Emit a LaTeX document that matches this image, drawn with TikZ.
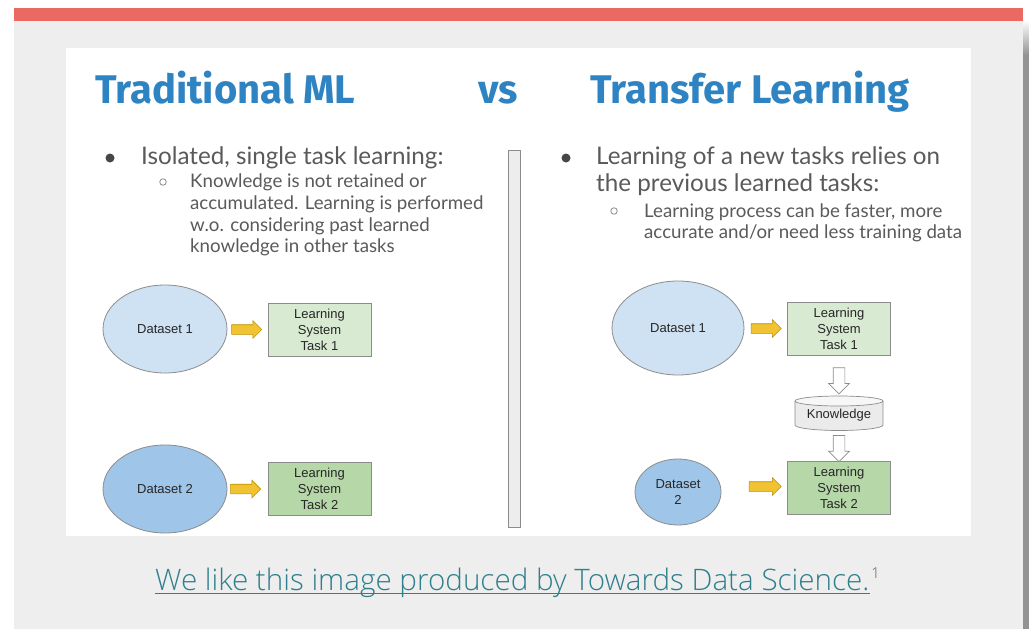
\documentclass[tikz,border=0pt]{standalone}
\usepackage{fontspec}
\setmainfont{Liberation Sans}
\newfontfamily\titlefont{Fira Sans}
\newfontfamily\bodyfont{Lato}
\newfontfamily\capfont{Open Sans Light}
\usetikzlibrary{shapes.geometric,shapes.arrows,calc}

\definecolor{redbar}{HTML}{EA6A62}
\definecolor{panel}{HTML}{EEEEEE}
\definecolor{shadowgray}{HTML}{939393}
\definecolor{titleblue}{HTML}{2E84C2}
\definecolor{bodygray}{HTML}{5A5A5A}
\definecolor{dsA}{HTML}{CFE2F3}
\definecolor{dsB}{HTML}{9FC5E8}
\definecolor{lsA}{HTML}{D9EAD3}
\definecolor{lsB}{HTML}{B6D7A8}
\definecolor{yel}{HTML}{F1C232}
\definecolor{yeledge}{HTML}{BF9000}
\definecolor{edge}{HTML}{8C8C8C}
\definecolor{kngray}{HTML}{EBEBEB}
\definecolor{capteal}{HTML}{2F7F8C}

\tikzset{
  title/.style={anchor=base west, inner sep=0pt, text=titleblue, font=\titlefont\bfseries\fontsize{40}{40}\selectfont},
  lead/.style={anchor=base west, inner sep=0pt, text=bodygray, font=\bodyfont\fontsize{24.2}{24.2}\selectfont},
  sub/.style={anchor=base west, inner sep=0pt, text=bodygray, font=\bodyfont\fontsize{18.7}{18.7}\selectfont},
  dot/.style={circle, fill=black!72, inner sep=0pt, minimum size=9pt},
  ring/.style={circle, draw=black!45, line width=0.8pt, inner sep=0pt, minimum size=6.5pt},
  dataset/.style={ellipse, draw=edge, line width=0.8pt, inner sep=0pt, align=center,
    font=\fontsize{13}{16}\selectfont, text=black!85},
  lsys/.style={rectangle, draw=edge, line width=0.8pt, inner sep=0pt, align=center,
    minimum width=103pt, minimum height=53pt, font=\fontsize{13}{16}\selectfont, text=black!85},
  yarrow/.style={single arrow, fill=yel, draw=yeledge, line width=0.6pt, inner sep=0pt,
    minimum height=30pt, single arrow head extend=4pt, anchor=tip},
  warrow/.style={single arrow, fill=white, draw=edge, line width=0.7pt, inner sep=0pt,
    shape border rotate=270, minimum height=26pt, single arrow head extend=4.5pt},
}
% invisible boxes that set the shaft thickness of the block arrows
\newcommand{\yshaft}{\rule{0pt}{9pt}}
\newcommand{\wshaft}{\rule{11pt}{0pt}\rule{0pt}{11pt}}

\begin{document}
\begin{tikzpicture}[x=1pt, y=-1pt]
\useasboundingbox (0,0) rectangle (1029,629);
\fill[white] (0,0) rectangle (1029,629);

% slide frame: panel, red top bar and the shadow on the right edge
\fill[panel] (14,21) rectangle (1022.5,629);
\fill[redbar] (14,8) rectangle (1022.5,21);
\shade[top color=white, bottom color=shadowgray] (1023,20) rectangle (1029,55);
\fill[shadowgray] (1023,55) rectangle (1029,629);

% white picture area
\fill[white] (66,48) rectangle (971,536);

% headings
\node[title] (tml) at (95,103) {Traditional ML};
\node[title] (vs) at (478,103) {vs};
\node[title] (tl) at (590,103) {Transfer Learning};

% left bullet list
\node[dot] (bl) at (110,158) {};
\node[lead] (l1) at (141,164.5) {Isolated, single task learning:};
\node[ring] (sl) at (163,182) {};
\node[sub] (l2) at (190,187.5) {Knowledge is not retained or};
\node[sub] (l3) at (190,209) {accumulated. Learning is performed};
\node[sub] (l4) at (190,231) {w.o. considering past learned};
\node[sub] (l5) at (190,252.5) {knowledge in other tasks};

% right bullet list
\node[dot] (br) at (566,158) {};
\node[lead] (r1) at (596,164) {Learning of a new tasks relies on};
\node[lead] (r2) at (596,191.5) {the previous learned tasks:};
\node[ring] (sr) at (614,211) {};
\node[sub] (r3) at (644,217) {Learning process can be faster, more};
\node[sub] (r4) at (644,238) {accurate and/or need less training data};

% divider bar
\node[rectangle, draw=black!45, fill=black!7, line width=0.8pt, inner sep=0pt,
  minimum width=12pt, minimum height=377pt] (div) at (514,338.5) {};

% traditional ML: two independent tasks
\node[dataset, fill=dsA, minimum width=124pt, minimum height=88pt] (ld1) at (165,329) {Dataset 1};
\node[lsys, fill=lsA] (lt1) at (319.5,329.5) {Learning\\System\\Task 1};
\node[yarrow] (la1) at ($(lt1.west)+(-5.5,0)$) {\yshaft};

\node[dataset, fill=dsB, minimum width=124pt, minimum height=88pt] (ld2) at (165,489) {Dataset 2};
\node[lsys, fill=lsB] (lt2) at (319.5,489) {Learning\\System\\Task 2};
\node[yarrow] (la2) at ($(lt2.west)+(-6.5,0)$) {\yshaft};

% transfer learning: knowledge passed from task 1 to task 2
\node[dataset, fill=dsA, minimum width=132pt, minimum height=94pt] (rd1) at (678,328) {Dataset 1};
\node[lsys, fill=lsA] (rt1) at (839,328.5) {Learning\\System\\Task 1};
\node[yarrow] (ra1) at ($(rt1.west)+(-5.5,0)$) {\yshaft};

\node[dataset, fill=dsB, minimum width=86pt, minimum height=66pt] (rd2) at (678,492) {Dataset\\2};
\node[lsys, fill=lsB] (rt2) at (839,487.5) {Learning\\System\\Task 2};
\node[yarrow, minimum height=32pt] (ra2) at ($(rt2.west)+(-5.5,-1)$) {\yshaft};

% knowledge store drawn as a cylinder around its label
\node[inner sep=0pt, minimum width=88pt, minimum height=30pt] (kn) at (839,415.5) {};
\fill[kngray] (795,401) -- (795,425) arc[start angle=180, end angle=360, x radius=44pt, y radius=5.5pt] -- (883,401) -- cycle;
\fill[white!60!kngray, draw=edge, line width=0.7pt] (839,401) ellipse[x radius=44pt, y radius=5pt];
\draw[edge, line width=0.7pt] (795,401) -- (795,425) arc[start angle=180, end angle=360, x radius=44pt, y radius=5.5pt] -- (883,401);
\node[inner sep=0pt, font=\fontsize{13}{16}\selectfont, text=black!85] (knl) at (839,415) {Knowledge};

\node[warrow] (wa1) at ($(rt1.south)!0.5!(kn.north)$) {\wshaft};
\node[warrow] (wa2) at ($(kn.south)!0.5!(rt2.north)$) {\wshaft};

% caption
\node[anchor=base west, inner sep=0pt, text=capteal, font=\capfont\fontsize{29.6}{29.6}\selectfont]
  (cap) at (155,590) {We like this image produced by Towards Data Science.};
\draw[capteal, line width=1.1pt] ($(cap.base west)+(0,3.5)$) -- ($(cap.base east)+(0,3.5)$);
\node[anchor=base west, inner sep=0pt, text=black!65, font=\capfont\fontsize{15}{15}\selectfont]
  (fn) at ($(cap.base east)+(1.5,-12)$) {1};
\end{tikzpicture}
\end{document}
